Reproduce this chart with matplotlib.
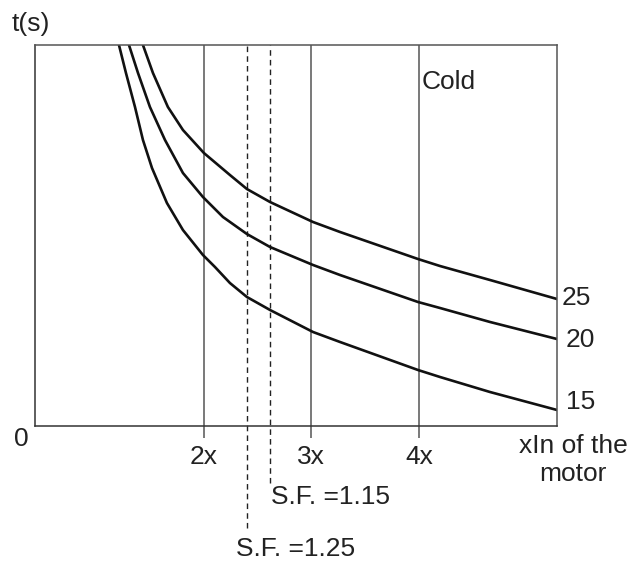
import matplotlib
matplotlib.use("Agg")
import matplotlib.pyplot as plt

plt.rcParams['font.family'] = ['Liberation Sans', 'DejaVu Sans']

# tripping curves, x = multiples of In, t = arbitrary units (0..100)
x_15 = [1.211, 1.276, 1.360, 1.434, 1.518, 1.657, 1.806, 1.992, 2.104, 2.243, 2.401, 2.616,
        3.016, 3.267, 3.992, 4.197, 4.662, 5.285]
t_15 = [100, 92.65, 83.73, 75.07, 67.72, 58.53, 51.44, 44.88, 41.73, 37.53, 33.86, 30.45,
        24.67, 22.05, 14.70, 12.86, 8.92, 4.20]

x_20 = [1.304, 1.388, 1.499, 1.639, 1.806, 1.992, 2.178, 2.401, 2.616, 3.016, 3.267, 3.992,
        4.197, 4.662, 5.285]
t_20 = [100, 92.65, 83.73, 75.07, 66.40, 60.10, 54.86, 50.39, 46.98, 42.26, 39.63, 32.55,
        30.97, 27.30, 22.83]

x_25 = [1.434, 1.527, 1.666, 1.806, 2.001, 2.243, 2.401, 2.616, 3.016, 3.267, 3.992, 4.197,
        4.662, 5.285]
t_25 = [100, 92.65, 83.73, 77.69, 71.65, 65.88, 62.20, 58.79, 53.54, 50.92, 43.83, 41.99,
        38.32, 33.33]

curve_labels = ['15', '20', '25']
grid_x = [2, 3, 4]
grid_labels = ['2x', '3x', '4x']
sf_x = [2.401, 2.616]
sf_labels = ['S.F. =1.25', 'S.F. =1.15']

W, H = 631, 562
fig = plt.figure(figsize=(W / 100, H / 100), dpi=100)
ax = fig.add_axes([35 / W, 1 - 426 / H, 522 / W, 381 / H])
ax.set_xlim(0.43, 5.285)
ax.set_ylim(0, 100)


def px(x, y):
    return x / W, 1 - y / H


# solid verticals at 2x, 3x, 4x with ticks below
for gx in grid_x:
    ax.axvline(gx, color='#555555', lw=1.1)
ax.set_xticks(grid_x)
ax.set_xticklabels(grid_labels, fontsize=19, color='#222222')
ax.tick_params(axis='x', direction='out', length=8.6, width=1.1, color='#555555', pad=5)
ax.set_yticks([])

# dashed service factor lines, running down below the axis
sf_bottom = [-26.8, -15.0]
for sx, yb in zip(sf_x, sf_bottom):
    ax.plot([sx, sx], [yb, 100], color='#222222', lw=1.0, ls=(0, (4, 3)), clip_on=False)

# curves
for xs, ts in [(x_15, t_15), (x_20, t_20), (x_25, t_25)]:
    ax.plot(xs, ts, color='#111111', lw=1.9, solid_joinstyle='round', solid_capstyle='round')

for sp in ['top', 'right']:
    ax.spines[sp].set_color('#555555')
for sp in ['left', 'bottom']:
    ax.spines[sp].set_color('#333333')
for sp in ax.spines.values():
    sp.set_linewidth(1.1)

fs = 19
tc = '#222222'
fig.text(*px(12, 24), 't(s)', fontsize=fs, color=tc, ha='left', va='center')
fig.text(*px(21, 439), '0', fontsize=fs, color=tc, ha='center', va='center')
fig.text(*px(422, 82), 'Cold', fontsize=fs, color=tc, ha='left', va='center')
fig.text(*px(573, 460), 'xIn of the\nmotor', fontsize=fs, color=tc, ha='center', va='center',
         linespacing=1.2)
fig.text(*px(562, 298), curve_labels[2], fontsize=fs, color=tc, ha='left', va='center')
fig.text(*px(566, 340), curve_labels[1], fontsize=fs, color=tc, ha='left', va='center')
fig.text(*px(566, 402), curve_labels[0], fontsize=fs, color=tc, ha='left', va='center')
fig.text(*px(271, 497), sf_labels[1], fontsize=fs, color=tc, ha='left', va='center')
fig.text(*px(236, 549), sf_labels[0], fontsize=fs, color=tc, ha='left', va='center')

fig.savefig('out.png', dpi=100)
